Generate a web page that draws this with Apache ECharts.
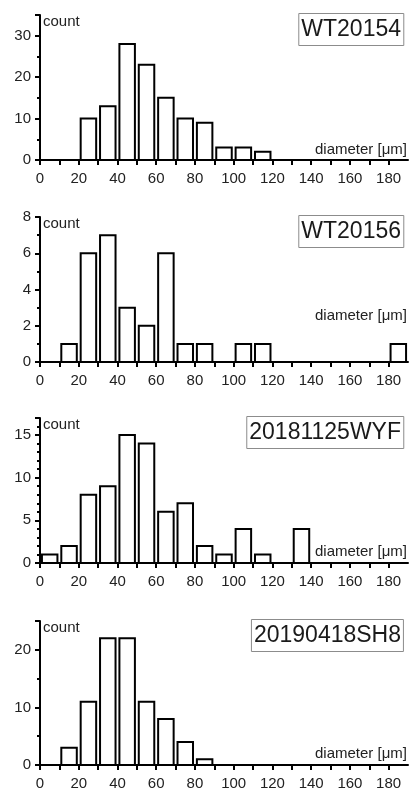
<!DOCTYPE html>
<html lang="en">
<head>
    <meta charset="UTF-8">
    <title>diameter histograms</title>
<script src="https://cdn.jsdelivr.net/npm/echarts@6/dist/echarts.min.js"></script>
<style>
  html, body { margin: 0; padding: 0; background: #fff; }
  #main { width: 410px; height: 791px; }
</style>
</head>
<body>
<div id="main"></div>

<script>
  // bin start of every 10 µm bin
  var binStart = [0, 10, 20, 30, 40, 50, 60, 70, 80, 90, 100, 110, 120, 130, 140, 150, 160, 170, 180];
  // counts per bin for each sample
  var wt20154 = [0, 0, 10, 13, 28, 23, 15, 10, 9, 3, 3, 2, 0, 0, 0, 0, 0, 0, 0];
  var wt20156 = [0, 1, 6, 7, 3, 2, 6, 1, 1, 0, 1, 1, 0, 0, 0, 0, 0, 0, 1];
  var wyf20181125 = [1, 2, 8, 9, 15, 14, 6, 7, 2, 1, 4, 1, 0, 4, 0, 0, 0, 0, 0];
  var sh8_20190418 = [0, 3, 11, 22, 22, 11, 8, 4, 1, 0, 0, 0, 0, 0, 0, 0, 0, 0, 0];

  var sampleNames = ['WT20154', 'WT20156', '20181125WYF', '20190418SH8'];
  var yMax = [35, 8, 17, 25];
  var yStep = [10, 2, 5, 10];
  var yMinorSplit = [2, 2, 5, 2];
  var xTickStep = 10;
  var xLabelStep = 20;
  var xMax = 190;

  var allCounts = [wt20154, wt20156, wyf20181125, sh8_20190418];

  // layout of the 4 panels
  var gridTop = [15, 217, 418, 621];
  var gridH = 145;
  var diamOffset = [8, 44, 9, 10];
  var font = "'Liberation Sans', Arial, sans-serif";

  var grids = [], xAxes = [], yAxes = [], series = [], titles = [], texts = [];

  function renderBar(params, api) {
    var x0 = api.value(0);
    var h = api.value(1);
    var p0 = api.coord([x0 + 1, h]);
    var p1 = api.coord([x0 + 9, 0]);
    return {
      type: 'rect',
      shape: { x: p0[0], y: p0[1], width: p1[0] - p0[0], height: p1[1] - p0[1] },
      style: { fill: '#fff', stroke: '#000', lineWidth: 2 }
    };
  }

  for (var i = 0; i < 4; i++) {
    grids.push({ left: 40, right: 2, top: gridTop[i], height: gridH });

    xAxes.push({
      type: 'value', gridIndex: i, min: 0, max: xMax, interval: xTickStep,
      axisLine: { onZero: false, lineStyle: { color: '#000', width: 2 } },
      axisTick: { inside: false, length: 5, lineStyle: { color: '#000', width: 2 } },
      splitLine: { show: false },
      axisLabel: {
        margin: 11, color: '#222', fontSize: 15, fontFamily: font,
        showMaxLabel: false,
        formatter: function (v) { return (v % xLabelStep === 0 && v < xMax) ? String(v) : ''; }
      }
    });

    (function (step) {
      yAxes.push({
        type: 'value', gridIndex: i, min: 0, max: yMax[i], interval: step,
        axisLine: { show: true, lineStyle: { color: '#000', width: 2 } },
        axisTick: { show: true, inside: false, length: 5, lineStyle: { color: '#000', width: 2 } },
        minorTick: { show: true, splitNumber: yMinorSplit[i], length: 3, lineStyle: { color: '#000', width: 2 } },
        splitLine: { show: false },
        axisLabel: {
          margin: 9, color: '#222', fontSize: 15, fontFamily: font,
          formatter: function (v) { return v % step === 0 ? String(v) : ''; }
        }
      });
    })(yStep[i]);

    var data = [];
    for (var k = 0; k < binStart.length; k++) {
      if (allCounts[i][k] > 0) data.push([binStart[k], allCounts[i][k]]);
    }
    series.push({
      type: 'custom', xAxisIndex: i, yAxisIndex: i,
      renderItem: renderBar, data: data, clip: false, silent: true
    });

    titles.push({
      text: sampleNames[i], right: 6, top: gridTop[i] - 2,
      borderColor: '#8c8c8c', borderWidth: 1, padding: [4, 3, 3, 3],
      textStyle: { fontSize: 23, fontWeight: 'normal', color: '#1a1a1a', fontFamily: font, lineHeight: 26 }
    });

    texts.push({
      type: 'text', left: 43, top: gridTop[i] - 1,
      style: { text: 'count', fontSize: 15, fill: '#222', fontFamily: font }
    });
    texts.push({
      type: 'text', right: 3, top: gridTop[i] + gridH - diamOffset[i] - 10,
      style: { text: 'diameter [μm]', fontSize: 15, fill: '#222', fontFamily: font }
    });
  }

  var myChart = echarts.init(document.getElementById('main'));
  myChart.setOption({
    animation: false,
    backgroundColor: '#fff',
    title: titles,
    grid: grids,
    xAxis: xAxes,
    yAxis: yAxes,
    series: series,
    graphic: texts
  });
</script>
</body>
</html>
